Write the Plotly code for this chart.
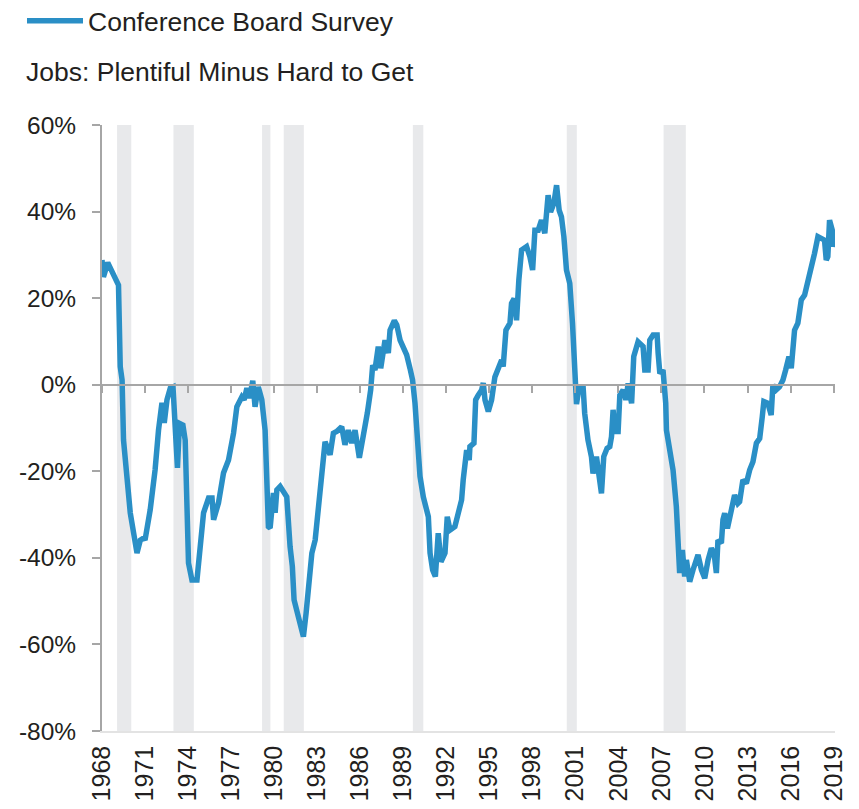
import plotly.graph_objects as go

# ---- data (x in chart-label years) ----
years = [1968.0, 1968.1, 1968.4, 1969.15, 1969.27, 1969.4, 1969.5, 1969.97, 1970.44, 1970.67,
         1970.9, 1971.0, 1971.36, 1971.7, 1971.94, 1972.18, 1972.34, 1972.53, 1972.76, 1972.95,
         1973.26, 1973.4, 1973.64, 1973.8, 1974.03, 1974.27, 1974.62, 1974.85, 1975.08, 1975.43,
         1975.67, 1975.78, 1976.12, 1976.47, 1976.59, 1976.82, 1977.17, 1977.4, 1977.75, 1977.91,
         1978.1, 1978.28, 1978.51, 1978.67, 1978.9, 1979.14, 1979.37, 1979.6, 1979.72, 1979.95,
         1980.07, 1980.19, 1980.42, 1980.6, 1980.88, 1981.11, 1981.27, 1981.39, 1981.53, 1981.69,
         1981.86, 1982.04, 1982.23, 1982.39, 1982.63, 1982.86, 1983.08, 1983.32, 1983.55, 1983.9,
         1984.13, 1984.36, 1984.71, 1984.94, 1985.17, 1985.41, 1985.64, 1985.94, 1986.22, 1986.5,
         1986.73, 1986.87, 1987.03, 1987.26, 1987.43, 1987.73, 1987.96, 1988.08, 1988.38, 1988.55,
         1988.78, 1989.05, 1989.24, 1989.47, 1989.65, 1989.82, 1989.98, 1990.17, 1990.4, 1990.75,
         1990.87, 1991.05, 1991.24, 1991.44, 1991.63, 1991.91, 1992.07, 1992.26, 1992.6, 1992.84,
         1993.07, 1993.18, 1993.3, 1993.42, 1993.6, 1993.65, 1993.93, 1994.05, 1994.23, 1994.47,
         1994.58, 1994.7, 1994.93, 1995.16, 1995.39, 1995.62, 1995.86, 1995.97, 1996.16, 1996.44,
         1996.55, 1996.73, 1996.9, 1997.06, 1997.25, 1997.6, 1997.83, 1998.02, 1998.18, 1998.41,
         1998.64, 1998.87, 1999.1, 1999.27, 1999.5, 1999.69, 1999.87, 2000.03, 2000.2, 2000.38,
         2000.61, 2000.8, 2000.96, 2001.08, 2001.26, 2001.54, 2001.65, 2001.88, 2002.12, 2002.23,
         2002.47, 2002.65, 2002.82, 2002.98, 2003.21, 2003.4, 2003.52, 2003.63, 2003.75, 2003.98,
         2004.1, 2004.33, 2004.52, 2004.68, 2004.92, 2005.07, 2005.37, 2005.72, 2005.84, 2006.07,
         2006.19, 2006.42, 2006.7, 2006.77, 2006.89, 2007.11, 2007.3, 2007.35, 2007.58, 2007.81,
         2008.04, 2008.16, 2008.27, 2008.46, 2008.62, 2008.74, 2008.97, 2009.2, 2009.55, 2009.79,
         2010.02, 2010.25, 2010.48, 2010.67, 2010.83, 2010.94, 2011.18, 2011.29, 2011.41, 2011.6,
         2011.87, 2012.1, 2012.33, 2012.45, 2012.68, 2012.92, 2013.15, 2013.38, 2013.62, 2013.85,
         2014.03, 2014.14, 2014.42, 2014.65, 2014.77, 2015.0, 2015.23, 2015.47, 2015.66, 2015.89,
         2016.05, 2016.28, 2016.51, 2016.75, 2016.98, 2017.21, 2017.44, 2017.67, 2017.91, 2018.14,
         2018.37, 2018.49, 2018.6, 2018.72, 2018.91, 2019.0, 2019.05]
values = [28.8, 24.9, 28.2, 23.0, 4.2, 1.1, -12.8, -29.6, -38.9, -35.9,
          -35.4, -35.9, -28.9, -19.7, -10.5, -4.2, -8.8, -3.5, -0.8, -0.5,
          -19.2, -8.9, -9.3, -12.8, -41.2, -45.1, -45.1, -37.4, -29.6, -26.2,
          -26.2, -31.2, -27.3, -20.4, -19.2, -17.4, -11.2, -5.1, -2.8, -3.5,
          -0.8, -3.1, 0.9, -5.1, -0.5, -3.5, -10.5, -32.8, -33.1, -25.0,
          -29.6, -24.3, -23.5, -24.3, -25.9, -37.4, -42.0, -49.7, -51.3, -53.6,
          -55.9, -58.2, -52.7, -47.4, -38.9, -35.9, -28.2, -22.0, -13.2, -16.2,
          -11.2, -10.8, -9.7, -13.9, -10.5, -13.5, -10.5, -16.9, -12.0, -6.5,
          -1.2, 4.5, 3.4, 8.8, 3.8, 10.3, 7.3, 12.6, 14.8, 13.8,
          10.3, 8.0, 6.9, 3.8, 1.1, -4.3, -14.3, -21.2, -25.9, -30.5,
          -38.9, -42.8, -44.3, -34.3, -40.9, -38.9, -30.5, -33.6, -32.8, -29.7,
          -26.6, -22.0, -18.5, -15.1, -17.4, -14.3, -13.5, -3.5, -2.4, -1.2,
          0.4, -3.5, -6.2, -3.5, 1.8, 4.2, 5.7, 4.2, 12.6, 14.2,
          18.8, 19.9, 14.9, 24.2, 31.1, 31.9, 29.6, 26.5, 35.7, 35.7,
          38.0, 35.0, 43.8, 39.9, 41.9, 46.1, 40.3, 38.8, 34.2, 26.5,
          23.4, 14.2, 1.8, -4.5, -0.5, -0.5, -6.6, -12.8, -16.6, -20.5,
          -16.6, -21.2, -25.1, -16.6, -14.7, -14.3, -12.0, -5.8, -10.8, -10.8,
          -2.4, -1.2, -3.5, 0.3, -4.3, 6.5, 9.9, 8.8, 3.4, 3.4,
          10.3, 11.5, 11.5, 7.3, 2.6, 3.4, -4.3, -10.5, -15.8, -19.7,
          -28.2, -34.3, -43.5, -38.2, -44.3, -40.5, -45.5, -42.8, -39.3, -42.8,
          -44.7, -40.5, -37.8, -38.9, -43.5, -35.9, -36.6, -31.2, -29.7, -33.2,
          -28.9, -25.5, -27.4, -27.0, -22.0, -22.8, -19.7, -17.8, -13.5, -12.4,
          -7.4, -3.9, -4.3, -7.0, -0.1, -1.2, -0.5, 1.1, 3.4, 6.5,
          3.8, 12.6, 14.2, 19.6, 20.7, 23.8, 26.5, 30.3, 34.2, 33.8,
          33.4, 28.8, 29.6, 38.0, 35.7, 31.9, 32.6]

recession_starts = [1969.05, 1972.98, 1979.16, 1980.67, 1989.67, 2000.4, 2007.15]
recession_ends = [1970.04, 1974.4, 1979.74, 1982.07, 1990.4, 2001.1, 2008.7]

x_tick_vals = list(range(1968, 2020, 3))
x_tick_text = [str(y) for y in x_tick_vals]
y_tick_vals = [60, 40, 20, 0, -20, -40, -60, -80]
y_tick_text = ["60%", "40%", "20%", "0%", "-20%", "-40%", "-60%", "-80%"]

series_name = "Conference Board Survey"
subtitle = "Jobs: Plentiful Minus Hard to Get"

LINE_COLOR = "#2A8FC6"
AXIS_COLOR = "#A6A6A6"
TEXT_COLOR = "#231F20"
FONT = "Liberation Sans, Arial, sans-serif"
X_RANGE = [1968, 2019.1]

# the page body has an 8px margin, so the figure is drawn 8px in from the window edge
OFF = 8
W, H = 859 - OFF, 809 - OFF
ML, MT = 102 - OFF, 125 - OFF
MR = W - (835 - OFF)
MB = H - (731 - OFF)
PW = W - ML - MR
PH = H - MT - MB

fig = go.Figure()
fig.add_trace(go.Scatter(
    x=years, y=values, mode="lines", name=series_name,
    line=dict(color=LINE_COLOR, width=5.5),
    showlegend=True,
))

for s, e in zip(recession_starts, recession_ends):
    fig.add_vrect(x0=s, x1=e, fillcolor="#E8E9EB", opacity=1, line_width=0, layer="below")

fig.update_layout(
    width=W, height=H,
    margin=dict(l=ML, r=MR, t=MT, b=MB, autoexpand=False),
    paper_bgcolor="white", plot_bgcolor="white",
    font=dict(family=FONT, color=TEXT_COLOR, size=25),
    showlegend=True,
    legend=dict(
        x=(14 - ML) / PW, y=1 + (MT + 11) / PH,
        xanchor="left", yanchor="top",
        font=dict(size=26.5, color=TEXT_COLOR),
        itemwidth=56, bgcolor="rgba(0,0,0,0)",
    ),
    xaxis=dict(
        range=X_RANGE, tickmode="array", tickvals=x_tick_vals, ticktext=x_tick_text,
        tickangle=-90, showgrid=False, zeroline=False,
        showline=True, linecolor="#E3E3E3", linewidth=1.5,
        ticks="outside", ticklen=3, tickcolor="rgba(0,0,0,0)",
        tickfont=dict(size=25, color=TEXT_COLOR),
    ),
    xaxis2=dict(
        range=X_RANGE, overlaying="x", anchor="free", position=80 / 140,
        tickmode="array", tickvals=x_tick_vals, showticklabels=False,
        showgrid=False, zeroline=False,
        showline=True, linecolor=AXIS_COLOR, linewidth=2,
        ticks="outside", ticklen=7, tickwidth=1.5, tickcolor=AXIS_COLOR,
    ),
    yaxis=dict(
        range=[-80, 60], tickmode="array", tickvals=y_tick_vals, ticktext=y_tick_text,
        showgrid=False, zeroline=False,
        showline=True, linecolor=AXIS_COLOR, linewidth=2,
        ticks="outside", ticklen=8, tickwidth=1.5, tickcolor=AXIS_COLOR,
        ticklabelstandoff=11,
        tickfont=dict(size=24.5, color=TEXT_COLOR),
    ),
)

# invisible trace so xaxis2 is rendered
fig.add_trace(go.Scatter(x=[X_RANGE[0]], y=[0], xaxis="x2", mode="markers",
                         marker=dict(opacity=0), showlegend=False, hoverinfo="skip"))

fig.add_annotation(
    text=subtitle, xref="paper", yref="paper",
    x=(16 - ML) / PW, y=1 + (MT - 64) / PH,
    xanchor="left", yanchor="middle", showarrow=False,
    font=dict(size=26.5, color=TEXT_COLOR),
)

fig.write_html("out.html")
